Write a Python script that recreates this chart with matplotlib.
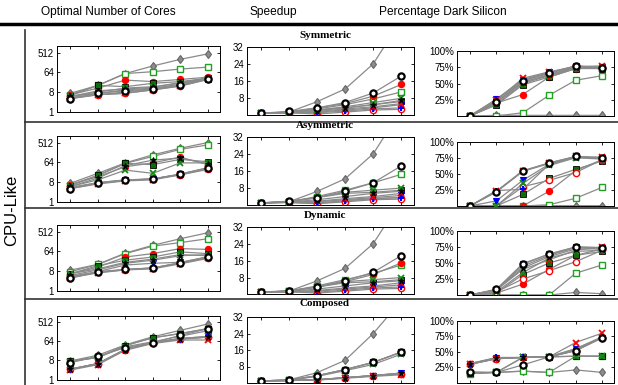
import matplotlib
matplotlib.use("Agg")
from matplotlib import pyplot as plt
from matplotlib.lines import Line2D

# x positions (6 design points, unlabeled)
xs = [1, 2, 3, 4, 5, 6]

# series order: gray diamond, green open sq, red dot, green filled sq, red open circ,
# blue tri, blue plus, red x, green x, black star, black open circle
cores_sym = [
    [7, 16, 56, 124, 250, 445],
    [6, 16, 56, 68, 90, 110],
    [6, 12, 28, 24, 30, 38],
    [5.5, 16, 14, 20, 24, 33],
    [4, 6, 7, 10, 15, 30],
    [5, 7, 10, 12, 18, 36],
    [4.5, 6, 8, 11, 16, 34],
    [4, 6, 7, 10, 15, 30],
    [5, 8, 12, 14, 20, 33],
    [5, 9, 11, 13, 22, 35],
    [4, 7, 9, 11, 16, 32],
]
speed_sym = [
    [1, 1.5, 6.4, 12.4, 24.2, 45],
    [1, 1.5, 3, 5, 7.7, 11],
    [1, 1.4, 3.5, 5.5, 9, 14.5],
    [1, 1.4, 2.5, 3.5, 5, 6.5],
    [1, 1.2, 0.6, 1.5, 2.5, 2.8],
    [1, 1.2, 1.5, 2.5, 3.5, 5],
    [1, 1.2, 1.2, 2.0, 3.0, 3.5],
    [1, 1.3, 1.8, 3, 4, 5.5],
    [1, 1.4, 2.5, 4, 6, 8],
    [1, 1.4, 2.2, 3.5, 5, 7],
    [1, 1.8, 3.5, 6, 10.5, 18.5],
]
dark_sym = [
    [0, 1, 1, 1, 1, 1],
    [0, 0, 5, 32, 55, 62],
    [0, 20, 33, 60, 73, 75],
    [0, 17, 48, 60, 73, 73],
    [0, 22, 52, 63, 74, 74],
    [0, 26, 56, 67, 77, 75],
    [0, 25, 55, 66, 76, 74],
    [0, 24, 58, 68, 76, 77],
    [0, 18, 50, 62, 74, 73],
    [0, 20, 52, 64, 75, 74],
    [0, 22, 54, 66, 77, 74],
]

cores_asym = [
    [7, 20, 60, 140, 280, 512],
    [6, 16, 57, 118, 250, 400],
    [6, 14, 40, 60, 110, 50],
    [5.5, 16, 57, 50, 87, 68],
    [4, 7, 9.5, 11, 17, 33],
    [4.5, 7.5, 10, 11, 18, 35],
    [4.5, 7, 9.5, 11, 18, 34],
    [4, 6.5, 9, 10, 17, 30],
    [5, 10, 28, 20, 60, 60],
    [5, 12, 45, 80, 100, 55],
    [4, 7.4, 9.8, 11, 18.5, 36],
]
speed_asym = [
    [1, 1.5, 6.4, 12.4, 24.2, 45],
    [1, 1.5, 4, 7, 10.5, 14.5],
    [1, 1.3, 0.8, 2, 3, 3.5],
    [1, 1.5, 3.5, 5.5, 6, 7],
    [1, 1.2, 0.6, 1.5, 2.5, 2.8],
    [1, 1.3, 1.5, 2.5, 3.5, 4.5],
    [1, 1.2, 1.0, 2.0, 3.0, 3.5],
    [1, 1.3, 1.8, 3, 4, 5.5],
    [1, 1.5, 3.5, 6, 7, 8],
    [1, 1.4, 2.5, 4, 5.5, 6.5],
    [1, 1.8, 3.5, 6.5, 10.5, 18.5],
]
dark_asym = [
    [0, 0.5, 0.5, 0.5, 0.5, 0.5],
    [0, 0, 0, 2, 12, 29],
    [0, 0, 0, 23, 55, 72],
    [0, 0, 18, 43, 57, 70],
    [0, 0, 30, 40, 52, 72],
    [0, 8, 40, 65, 77, 74],
    [0, 24, 26, 65, 76, 74],
    [0, 23, 55, 67, 77, 76],
    [0, 0, 35, 63, 75, 73],
    [0, 22, 54, 66, 76, 74],
    [0, 22, 54, 67, 77, 74],
]

cores_dyn = [
    [8.8, 16, 53, 120, 240, 450],
    [7.4, 16, 50, 110, 160, 240],
    [6, 12, 35, 50, 85, 78],
    [6, 14, 25, 35, 60, 50],
    [4, 7, 9, 11, 18, 33],
    [4.5, 7.5, 15, 18, 20, 35],
    [4.5, 7, 9.5, 11, 19, 34],
    [4, 6.5, 9, 10, 17, 30],
    [6, 10, 20, 28, 45, 40],
    [5, 9, 18, 25, 40, 45],
    [3.7, 7.4, 9.4, 11, 19, 36],
]
speed_dyn = [
    [1, 1.5, 6.4, 12.4, 24.2, 45],
    [1, 1.5, 4, 7, 10, 14],
    [1, 1.3, 3.5, 6, 9.5, 15],
    [1, 1.5, 3.5, 5.5, 6, 7],
    [1, 1.2, 0.6, 1.5, 2.5, 2.8],
    [1, 1.3, 1.5, 2.5, 3.5, 4.5],
    [1, 1.2, 1.0, 2.0, 3.0, 3.5],
    [1, 1.3, 1.8, 3, 4, 5.5],
    [1, 1.5, 3.5, 6, 7, 8],
    [1, 1.4, 2.5, 4, 5.5, 6.5],
    [1, 1.8, 3.5, 6.5, 10.5, 18.5],
]
dark_dyn = [
    [0, 0, 0, 0, 4, 2],
    [0, 0, 0, 0, 34, 47],
    [0, 3, 17, 40, 62, 72],
    [0, 3, 32, 50, 62, 68],
    [0, 5, 25, 38, 52, 70],
    [0, 8, 48, 64, 75, 74],
    [0, 8, 45, 62, 74, 73],
    [0, 8, 40, 55, 70, 75],
    [0, 5, 35, 58, 68, 70],
    [0, 8, 42, 60, 72, 72],
    [0, 9, 49, 64, 75, 74],
]

cores_comp = [
    [7.5, 14, 43, 104, 208, 415],
    [7.4, 11, 40, 93, 147, 250],
    [3, 5.6, 26, 54, 80, 100],
    [7.4, 11, 40, 93, 147, 250],
    [3, 5.6, 26, 54, 80, 100],
    [3.1, 5.6, 26, 54, 86, 107],
    [3.1, 5.6, 26, 54, 86, 107],
    [2.8, 5, 24, 50, 73, 73],
    [7, 11, 35, 60, 110, 200],
    [3.1, 5.6, 26, 54, 86, 100],
    [6.2, 12.5, 32, 54, 120, 250],
]
speed_comp = [
    [1, 1.5, 5, 11, 24, 40],
    [1, 1.4, 3.5, 6.5, 10, 15],
    [1, 1.2, 1.5, 2.5, 3.5, 4.5],
    [1, 1.4, 3.5, 6.5, 10, 15],
    [1, 1.2, 1.5, 2.5, 3.5, 4.5],
    [1, 1.2, 1.6, 2.6, 3.6, 4.8],
    [1, 1.2, 1.6, 2.6, 3.6, 4.8],
    [1, 1.2, 1.4, 2.3, 3.2, 4],
    [1, 1.4, 3.2, 6, 9, 14],
    [1, 1.2, 1.6, 2.6, 3.6, 4.8],
    [1, 1.5, 3.5, 6.5, 10, 15],
]
dark_comp = [
    [16, 17, 19, 17, 21, 17],
    [15, 17, 19, 17, 43, 43],
    [30, 39, 41, 42, 52, 73],
    [16, 17, 41, 42, 43, 43],
    [30, 39, 41, 42, 52, 73],
    [31, 40, 41, 42, 55, 73],
    [31, 41, 41, 42, 55, 74],
    [30, 39, 41, 42, 65, 80],
    [16, 17, 41, 42, 43, 43],
    [31, 40, 41, 42, 53, 74],
    [18, 17, 29, 42, 52, 72],
]

row_titles = ["Symmetric", "Asymmetric", "Dynamic", "Composed"]
col_titles = ["Optimal Number of Cores", "Speedup", "Percentage Dark Silicon"]

# marker styles for the 11 series (marker, face, edge, mew)
styles = [
    ("d", "#8c8c8c", "#666666", 0.8),
    ("s", "white", "#22a022", 1.0),
    ("o", "red", "red", 0.8),
    ("s", "#0b6e0b", "black", 0.6),
    ("o", "white", "red", 1.0),
    ("v", "blue", "blue", 0.8),
    ("+", "blue", "blue", 1.5),
    ("x", "red", "red", 1.3),
    ("x", "#138a13", "#138a13", 1.3),
    ("*", "black", "black", 0.6),
    ("o", "white", "black", 1.6),
]

plt.rcParams["font.family"] = ["Liberation Sans", "DejaVu Sans"]

W, H = 618, 385
fig = plt.figure(figsize=(W / 100, H / 100), dpi=100)


def px_axes(x0, y0, x1, y1):
    return fig.add_axes([x0 / W, 1 - y1 / H, (x1 - x0) / W, (y1 - y0) / H])


col_x = [(56.7, 220), (246.7, 414), (456.7, 614)]
col_y = [
    [(46, 111.7), (136, 201.7), (225, 290.7), (315.7, 379.5)],
    [(47.3, 115.3), (137.3, 205), (227.3, 294.3), (317, 383)],
    [(51, 116), (141.7, 206), (231, 295), (320.7, 383)],
]

panels = [
    [cores_sym, speed_sym, dark_sym],
    [cores_asym, speed_asym, dark_asym],
    [cores_dyn, speed_dyn, dark_dyn],
    [cores_comp, speed_comp, dark_comp],
]

for r in range(4):
    for c in range(3):
        x0, x1 = col_x[c]
        y0, y1 = col_y[c][r]
        ax = px_axes(x0, y0, x1, y1)
        data = panels[r][c]
        for i, ys in enumerate(data):
            m, fc, ec, mew = styles[i]
            ax.plot(xs, ys, color="#8a8a8a", lw=0.9, marker=m, mfc=fc, mec=ec,
                    mew=mew, ms=4.5, zorder=2 + i * 0.1, clip_on=True)
        ax.set_xlim(0.5, 6.45)
        ax.set_xticks(xs)
        ax.set_xticklabels([])
        if c == 0:
            ax.set_yscale("log", base=2)
            ax.set_ylim(1, 1024)
            ax.set_yticks([1, 8, 64, 512])
            ax.set_yticklabels(["1", "8", "64", "512"])
            ax.minorticks_off()
        elif c == 1:
            ax.set_ylim(0, 32)
            ax.set_yticks([8, 16, 24, 32])
        else:
            ax.set_ylim(0, 100)
            ax.set_yticks([25, 50, 75, 100])
            ax.set_yticklabels(["25%", "50%", "75%", "100%"])
        ax.tick_params(direction="in", length=2.5, width=0.6, top=True, right=True,
                       labelsize=7, pad=2)
        for s in ax.spines.values():
            s.set_linewidth(0.7)

# column headers
for txt, xc in zip(col_titles, [108, 273, 443]):
    fig.text(xc / W, 1 - 12 / H, txt, ha="center", va="center", fontsize=8.6)

# row titles (bold serif)
for txt, yc in zip(row_titles, [35, 126, 215, 304]):
    fig.text(325 / W, 1 - yc / H, txt, ha="center", va="center", fontsize=8,
             fontweight="bold", family=["Liberation Serif", "DejaVu Serif"])

fig.text(12 / W, 1 - 210 / H, "CPU-Like", rotation=90, ha="center", va="center",
         fontsize=12)

# separators
fig.add_artist(Line2D([0, 1], [1 - 24 / H] * 2, lw=2.5, color="black"))
for yy in [121.5, 208, 299]:
    fig.add_artist(Line2D([25 / W, 1], [1 - yy / H] * 2, lw=1.2, color="#333333"))
fig.add_artist(Line2D([25 / W] * 2, [1 - 30 / H, 0], lw=1.2, color="#333333"))

fig.savefig("out.png", dpi=100)
